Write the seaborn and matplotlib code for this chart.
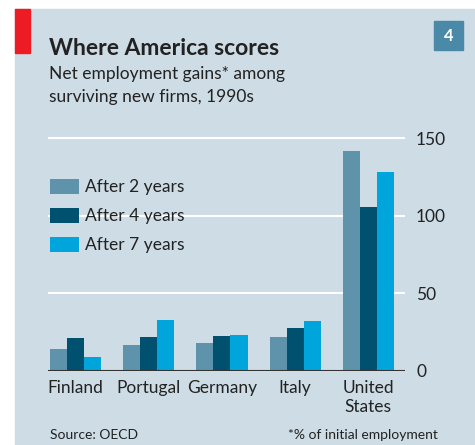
import pandas as pd
import matplotlib.pyplot as plt
import seaborn as sns
from matplotlib.patches import Rectangle

countries = ['Finland', 'Portugal', 'Germany', 'Italy', 'United\nStates']
periods = ['After 2 years', 'After 4 years', 'After 7 years']
after_2 = [14, 16.5, 17.5, 21.5, 142]
after_4 = [21, 21.5, 22, 27.5, 106]
after_7 = [9, 32.5, 23, 32, 128]
y_ticks = [0, 50, 100, 150]

colors = ['#5e93ab', '#00506f', '#00a5dc']
bg = '#cddce5'

data = pd.DataFrame({
    'country': countries * 3,
    'period': [p for p in periods for _ in countries],
    'value': after_2 + after_4 + after_7,
})

sns.set_style('white')
plt.rcParams['font.family'] = ['Lato', 'DejaVu Sans']

fig = plt.figure(figsize=(4.75, 4.45), dpi=100)
fig.patch.set_facecolor('white')
fig.patches.append(Rectangle((15 / 475, 0), 460 / 475, 1 - 9 / 445,
                             transform=fig.transFigure, color=bg, zorder=-10))
fig.patches.append(Rectangle((15 / 475, 1 - 53 / 445), 15 / 475, 44 / 445,
                             transform=fig.transFigure, color='#ed1c24', zorder=-5))
fig.patches.append(Rectangle((434 / 475, 1 - 50 / 445), 29 / 475, 29 / 445,
                             transform=fig.transFigure, color='#4a8aa8', zorder=-5))
fig.text(448.5 / 475, 1 - 36 / 445, '4', color='white', fontsize=12, fontweight='bold',
         ha='center', va='center')

ax = fig.add_axes([48 / 475, 0.1674, 357 / 475, 0.5562])
ax.set_zorder(5)
ax.patch.set_alpha(0)

sns.barplot(data=data, x='country', y='value', hue='period', palette=colors,
            width=0.7, saturation=1, linewidth=0, ax=ax, zorder=3)

for t in y_ticks[1:]:
    ax.axhline(t, color='white', lw=1.5, zorder=1)
ax.axhline(0, color='#333333', lw=1.5, zorder=4)

ax.set_ylim(0, 160)
ax.set_xlim(-0.375, 4.5)
ax.set_yticks(y_ticks)
ax.yaxis.tick_right()
ax.tick_params(axis='y', length=0, pad=8, labelsize=12.5, colors='#222222')
ax.tick_params(axis='x', length=0, pad=7, labelsize=12.5, colors='#222222')
ax.set_xlabel('')
ax.set_ylabel('')
for s in ax.spines.values():
    s.set_visible(False)

ax.legend(loc='upper left', bbox_to_anchor=(0.005, 0.775), frameon=False, fontsize=12.5,
          handlelength=1.7, handleheight=0.95, labelspacing=0.72, handletextpad=0.35,
          borderaxespad=0, borderpad=0, labelcolor='#222222')

fig.text(49 / 475, 1 - 55 / 445, 'Where America scores', fontsize=16.5, fontweight='bold',
         color='#222222', va='baseline')
fig.text(49 / 475, 1 - 79 / 445, 'Net employment gains* among', fontsize=12.5,
         color='#222222', va='baseline')
fig.text(49 / 475, 1 - 102 / 445, 'surviving new firms, 1990s', fontsize=12.5,
         color='#222222', va='baseline')
fig.text(50 / 475, 1 - 439 / 445, 'Source: OECD', fontsize=10, color='#222222', va='baseline')
fig.text(438 / 475, 1 - 439 / 445, '*% of initial employment', fontsize=10,
         color='#222222', va='baseline', ha='right')

fig.savefig('out.png', dpi=100)
